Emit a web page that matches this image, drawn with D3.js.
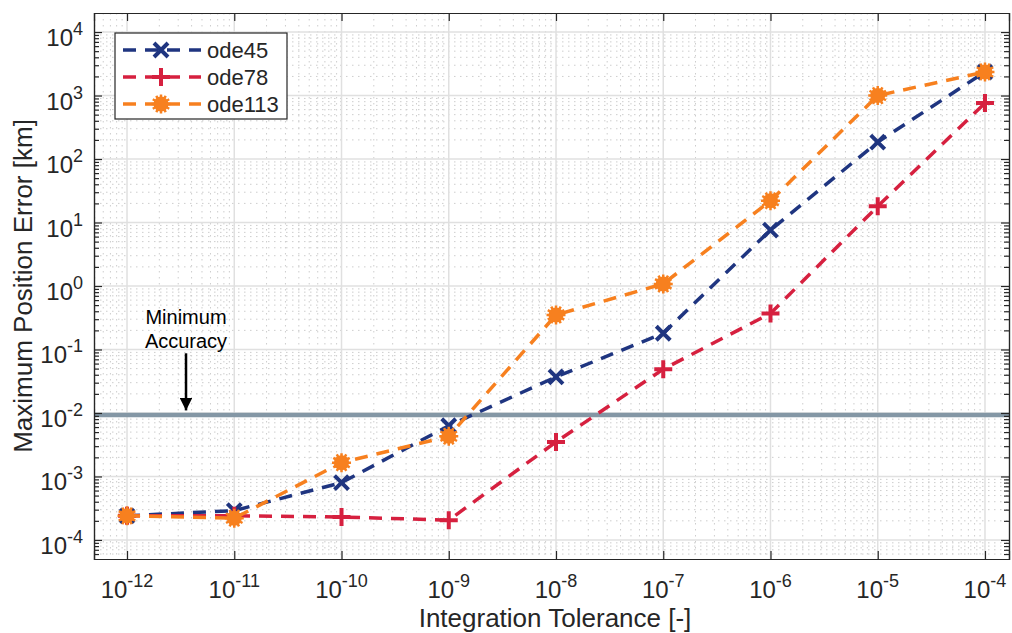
<!DOCTYPE html>
<html>
<head>
<meta charset="utf-8">
<script src="https://cdn.jsdelivr.net/npm/d3@7"></script>
<style>
  body { margin: 0; background: #fff; }
  text { font-family: Arial, "Liberation Sans", sans-serif; fill: #262626; }
</style>
</head>
<body>
<svg id="chart" width="1012" height="633"></svg>
<script>
let width = 1012, height = 633

// data
let tolerances = [1e-12, 1e-11, 1e-10, 1e-9, 1e-8, 1e-7, 1e-6, 1e-5, 1e-4]
let ode45 = [2.4e-4, 2.9e-4, 8.0e-4, 6.3e-3, 0.037, 0.18, 7.6, 185, 2350]
let ode78 = [2.4e-4, 2.4e-4, 2.3e-4, 2.05e-4, 3.5e-3, 0.049, 0.37, 18, 760]
let ode113 = [2.4e-4, 2.2e-4, 1.65e-3, 4.3e-3, 0.35, 1.08, 22, 1000, 2350]
let seriesNames = ["ode45", "ode78", "ode113"]
let xTicks = [-12, -11, -10, -9, -8, -7, -6, -5, -4]
let yTicks = [-4, -3, -2, -1, 0, 1, 2, 3, 4]
let minAccuracy = 0.0093
let arrowX = Math.pow(10, -11.45)
let arrowFrom = Math.pow(10, -1.06), arrowTo = Math.pow(10, -1.96)

let colors = ["#1f3580", "#d6203f", "#f7801f"]
let svg = d3.select("#chart")

let margin = { top: 13, right: 3, bottom: 74, left: 94 }

let x = d3.scaleLog()
    .domain([Math.pow(10, -12.308), Math.pow(10, -3.776)])
    .range([margin.left, width - margin.right])

let y = d3.scaleLog()
    .domain([Math.pow(10, -4.3), Math.pow(10, 4.3)])
    .range([height - margin.bottom, margin.top])

let x0 = margin.left, x1 = width - margin.right
let y0 = height - margin.bottom, y1 = margin.top

svg.append("rect")
    .attr("x", x0).attr("y", y1)
    .attr("width", x1 - x0).attr("height", y0 - y1)
    .style("fill", "#fff")

// minor grid
let grid = svg.append("g")
for (let e = -13; e <= 4; e++) {
  for (let m = 2; m <= 9; m++) {
    let v = m * Math.pow(10, e)
    let px = x(v)
    if (px > x0 && px < x1) {
      grid.append("line")
        .attr("x1", px).attr("x2", px).attr("y1", y1).attr("y2", y0)
        .style("stroke", "#cdcdcd").style("stroke-width", 1)
        .style("stroke-dasharray", "1.5,4.5")
    }
    let py = y(v)
    if (py > y1 && py < y0) {
      grid.append("line")
        .attr("x1", x0).attr("x2", x1).attr("y1", py).attr("y2", py)
        .style("stroke", "#cdcdcd").style("stroke-width", 1)
        .style("stroke-dasharray", "1.5,4.5")
    }
  }
}

// major grid
xTicks.forEach(e => {
  grid.append("line")
    .attr("x1", x(Math.pow(10, e))).attr("x2", x(Math.pow(10, e)))
    .attr("y1", y1).attr("y2", y0)
    .style("stroke", "#e0e0e0").style("stroke-width", 1.5)
})
yTicks.forEach(e => {
  grid.append("line")
    .attr("x1", x0).attr("x2", x1)
    .attr("y1", y(Math.pow(10, e))).attr("y2", y(Math.pow(10, e)))
    .style("stroke", "#e0e0e0").style("stroke-width", 1.5)
})

// minimum accuracy line
svg.append("line")
    .attr("x1", x0).attr("x2", x1)
    .attr("y1", y(minAccuracy)).attr("y2", y(minAccuracy))
    .style("stroke", "#8497a5")
    .style("stroke-width", "4.5px")

// axes (MATLAB box with inward ticks)
let xAxisSettings = d3.axisBottom(x)
    .tickValues(xTicks.map(e => Math.pow(10, e)))
    .tickSize(-8)
    .tickFormat("")

let yAxisSettings = d3.axisLeft(y)
    .tickValues(yTicks.map(e => Math.pow(10, e)))
    .tickSize(-8)
    .tickFormat("")

let xAxisTicks = svg.append("g")
    .attr("transform", `translate(0,${y0})`)
    .call(xAxisSettings)
let xAxisTop = svg.append("g")
    .attr("transform", `translate(0,${y1})`)
    .call(d3.axisTop(x).tickValues(xTicks.map(e => Math.pow(10, e))).tickSize(-8).tickFormat(""))
let yAxisTicks = svg.append("g")
    .attr("transform", `translate(${x0},0)`)
    .call(yAxisSettings)
let yAxisRight = svg.append("g")
    .attr("transform", `translate(${x1},0)`)
    .call(d3.axisRight(y).tickValues(yTicks.map(e => Math.pow(10, e))).tickSize(-8).tickFormat(""))

// y minor ticks
let minorY = []
for (let e = -5; e <= 4; e++) for (let m = 2; m <= 9; m++) {
  let v = m * Math.pow(10, e)
  if (y(v) > y1 && y(v) < y0) minorY.push(v)
}
svg.append("g").attr("transform", `translate(${x0},0)`)
    .call(d3.axisLeft(y).tickValues(minorY).tickSize(-5).tickFormat(""))
svg.append("g").attr("transform", `translate(${x1},0)`)
    .call(d3.axisRight(y).tickValues(minorY).tickSize(-5).tickFormat(""))

svg.selectAll(".domain").style("stroke", "#262626").style("stroke-width", 1.2)
svg.selectAll(".tick line").style("stroke", "#262626").style("stroke-width", 1.2)

// tick labels with superscripts
xTicks.forEach(e => {
  let t = svg.append("text")
    .attr("x", x(Math.pow(10, e)))
    .attr("y", y0 + 39)
    .attr("text-anchor", "middle")
    .style("font-size", "24px")
  t.append("tspan").text("10")
  t.append("tspan").attr("dy", -11).style("font-size", "18px").text(e)
})
yTicks.forEach(e => {
  let t = svg.append("text")
    .attr("x", x0 - 11)
    .attr("y", y(Math.pow(10, e)) + 14)
    .attr("text-anchor", "end")
    .style("font-size", "24px")
  t.append("tspan").text("10")
  t.append("tspan").attr("dy", -11).style("font-size", "18px").text(e)
})

// axis titles
svg.append("text")
    .attr("x", 555)
    .attr("y", height - 6)
    .attr("text-anchor", "middle")
    .style("font-size", "26px")
    .text("Integration Tolerance [-]")

svg.append("text")
    .attr("transform", `translate(32,${(y0 + y1) / 2}) rotate(-90)`)
    .attr("text-anchor", "middle")
    .style("font-size", "26px")
    .text("Maximum Position Error [km]")

// series
let allSeries = [ode45, ode78, ode113]
let line = d3.line()
    .x((d, i) => x(tolerances[i]))
    .y(d => y(d))

function marker(g, type, cx, cy, color) {
  let s = 7
  if (type === 0) {
    g.append("path")
      .attr("d", `M${cx - s},${cy - s}L${cx + s},${cy + s}M${cx - s},${cy + s}L${cx + s},${cy - s}`)
      .style("stroke", color).style("stroke-width", 4).style("fill", "none")
  } else if (type === 1) {
    s = 9
    g.append("path")
      .attr("d", `M${cx - s},${cy}L${cx + s},${cy}M${cx},${cy - s}L${cx},${cy + s}`)
      .style("stroke", color).style("stroke-width", 4).style("fill", "none")
  } else {
    g.append("circle").attr("cx", cx).attr("cy", cy).attr("r", 7.5).style("fill", color)
    let d = ""
    for (let k = 0; k < 12; k++) {
      let a = k * Math.PI / 6
      d += `M${cx},${cy}L${cx + 9.5 * Math.cos(a)},${cy + 9.5 * Math.sin(a)}`
    }
    g.append("path").attr("d", d).style("stroke", color).style("stroke-width", 2.5)
  }
}

allSeries.forEach((vals, si) => {
  let g = svg.append("g")
  g.append("path")
    .attr("d", line(vals))
    .style("fill", "none")
    .style("stroke", colors[si])
    .style("stroke-width", "3.5px")
    .style("stroke-dasharray", "13,9")
  vals.forEach((v, i) => marker(g, si, x(tolerances[i]), y(v), colors[si]))
})

// annotation
svg.append("defs").append("marker")
    .attr("id", "arrowhead")
    .attr("viewBox", "0 0 10 10")
    .attr("refX", 10).attr("refY", 5)
    .attr("markerWidth", 5).attr("markerHeight", 5)
    .attr("markerUnits", "strokeWidth")
    .attr("orient", "auto")
    .append("path").attr("d", "M0,0L10,5L0,10z").style("fill", "#000")

svg.append("line")
    .attr("x1", x(arrowX)).attr("x2", x(arrowX))
    .attr("y1", y(arrowFrom)).attr("y2", y(arrowTo))
    .style("stroke", "#000").style("stroke-width", 2.5)
    .attr("marker-end", "url(#arrowhead)")

let ann = svg.append("text")
    .attr("text-anchor", "middle")
    .style("font-size", "20px")
    .style("fill", "#000")
ann.append("tspan").attr("x", x(arrowX)).attr("y", y(arrowFrom) - 29).text("Minimum")
ann.append("tspan").attr("x", x(arrowX)).attr("y", y(arrowFrom) - 5).text("Accuracy")

// legend
let legend = svg.append("g").attr("transform", "translate(115,33)")
legend.append("rect")
    .attr("width", 172).attr("height", 86)
    .style("fill", "#fff").style("stroke", "#262626").style("stroke-width", 1.2)
seriesNames.forEach((name, i) => {
  let ly = 17 + i * 27
  legend.append("line")
    .attr("x1", 8).attr("x2", 86).attr("y1", ly).attr("y2", ly)
    .style("stroke", colors[i]).style("stroke-width", 3.5)
    .style("stroke-dasharray", "13,9")
  marker(legend, i, 46, ly, colors[i])
  legend.append("text")
    .attr("x", 92).attr("y", ly + 8)
    .style("font-size", "22px")
    .text(name)
})
</script>
</body>
</html>
